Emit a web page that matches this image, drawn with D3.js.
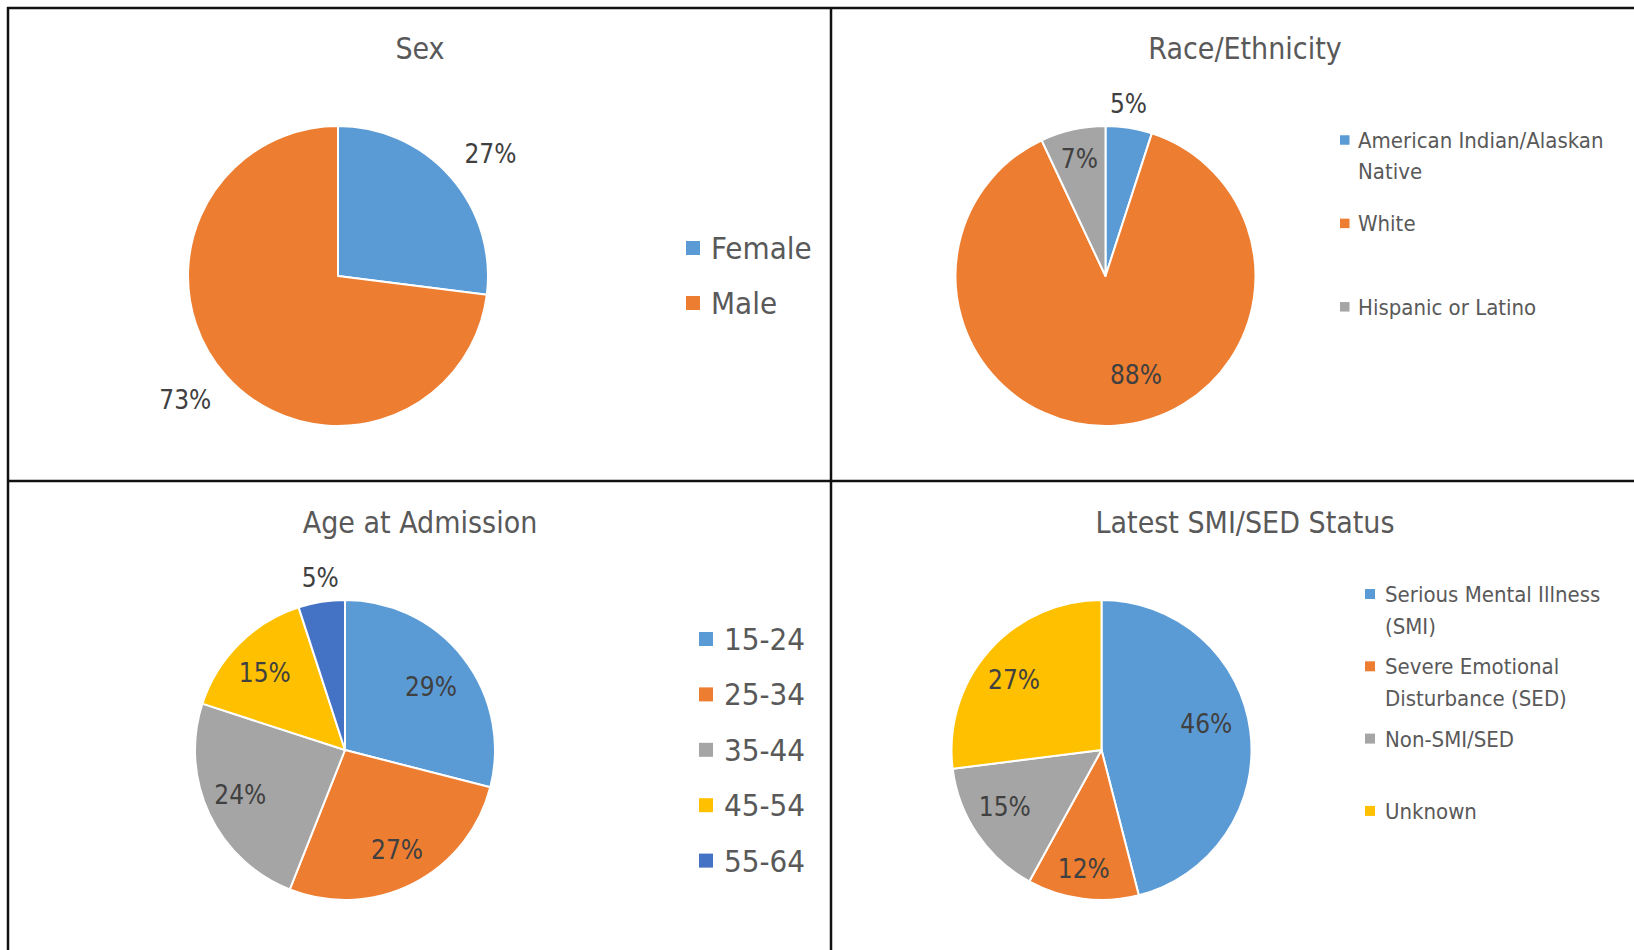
<!DOCTYPE html>
<html lang="en">
<head>
<meta charset="UTF-8">
<title>Client Demographics</title>
<script src="https://d3js.org/d3.v7.min.js"></script>
<style>
  body { margin: 0; background: #fff; }
  svg { display: block; }
  text { font-family: "DejaVu Sans Condensed", "Liberation Sans Narrow", "Arial Narrow", sans-serif; }
  .title { font-size: 30px; fill: #595959; text-anchor: middle; }
  .pct { font-size: 26px; fill: #404040; text-anchor: middle; }
  .leg-big { font-size: 31px; fill: #595959; }
  .leg-small { font-size: 22px; fill: #595959; }
  .frame { stroke: #111; stroke-width: 2.5; }
</style>
</head>
<body>
<svg id="chart"></svg>
<script>
// data (percent of clients)
const sexCategories = ["Female", "Male"];
const sexValues = [27, 73];

const raceCategories = ["American Indian/Alaskan Native", "White", "Hispanic or Latino"];
const raceValues = [5, 88, 7];

const ageCategories = ["15-24", "25-34", "35-44", "45-54", "55-64"];
const ageValues = [29, 27, 24, 15, 5];

const statusCategories = ["Serious Mental Illness (SMI)", "Severe Emotional Disturbance (SED)", "Non-SMI/SED", "Unknown"];
const statusValues = [46, 12, 15, 27];

const sliceColors = ["#5B9BD5", "#ED7D31", "#A5A5A5", "#FFC000", "#4472C4"];

const width = 1634, height = 950;
const radius = 150;

const svg = d3.select("#chart")
    .attr("width", width)
    .attr("height", height);

// frame around the four panels
const frameLines = [
    [7, 8, width, 8],
    [8, 7, 8, height],
    [831, 7, 831, height],
    [7, 481, width, 481]
];
svg.selectAll("line.frame")
    .data(frameLines)
    .enter().append("line")
    .attr("class", "frame")
    .attr("x1", d => d[0]).attr("y1", d => d[1])
    .attr("x2", d => d[2]).attr("y2", d => d[3]);

// layout of each panel: label = [radius factor, angle shift in degrees]
const panels = [
    { title: "Sex", cats: sexCategories, vals: sexValues,
      cx: 338, cy: 276, tx: 420, ty: 48,
      labels: [[1.30, 2.8], [1.31, 2.4]],
      legend: { sx: 686, box: 14, x: 711, y: 248, step: 55, cls: "leg-big", maxW: 400, lh: 34 } },
    { title: "Race/Ethnicity", cats: raceCategories, vals: raceValues,
      cx: 1105.5, cy: 276, tx: 1245, ty: 48,
      labels: [[1.16, -1.4], [0.69, -13.5], [0.80, 0]],
      legend: { sx: 1340, box: 9.5, x: 1358, y: 140, step: 83.4, cls: "leg-small", maxW: 270, lh: 31 } },
    { title: "Age at Admission", cats: ageCategories, vals: ageValues,
      cx: 345, cy: 750, tx: 420, ty: 522,
      labels: [[0.71, 1.6], [0.75, -0.6], [0.76, 1.9], [0.74, -1.3], [1.16, 0.8]],
      legend: { sx: 699, box: 14, x: 724, y: 639, step: 55.4, cls: "leg-big", maxW: 400, lh: 34 } },
    { title: "Latest SMI/SED Status", cats: statusCategories, vals: statusValues,
      cx: 1101.5, cy: 750, tx: 1245, ty: 522,
      labels: [[0.72, -6.7], [0.80, 1.3], [0.75, 3.5], [0.745, -2.9]],
      legend: { sx: 1365, box: 10, x: 1385, y: 594, step: 72.3, cls: "leg-small", maxW: 245, lh: 32 } }
];

const pie = d3.pie().sort(null).value(d => d);
const arc = d3.arc().innerRadius(0).outerRadius(radius);

function wrapLines(label, maxW, cls) {
    const probe = svg.append("text").attr("class", cls);
    const lines = [];
    let line = "";
    label.split(" ").forEach(w => {
        const t = line ? line + " " + w : w;
        probe.text(t);
        if (line && probe.node().getComputedTextLength() > maxW) {
            lines.push(line);
            line = w;
        } else {
            line = t;
        }
    });
    lines.push(line);
    probe.remove();
    return lines;
}

panels.forEach(p => {
    svg.append("text")
        .attr("class", "title")
        .attr("x", p.tx)
        .attr("y", p.ty)
        .attr("dominant-baseline", "central")
        .text(p.title);

    const arcs = pie(p.vals);
    const g = svg.append("g").attr("transform", `translate(${p.cx},${p.cy})`);

    g.selectAll("path")
        .data(arcs)
        .enter().append("path")
        .attr("d", arc)
        .attr("fill", (d, i) => sliceColors[i])
        .attr("stroke", "#fff")
        .attr("stroke-width", 2)
        .attr("stroke-linejoin", "round");

    g.selectAll("text.pct")
        .data(arcs)
        .enter().append("text")
        .attr("class", "pct")
        .attr("dominant-baseline", "central")
        .attr("x", (d, i) => {
            const a = (d.startAngle + d.endAngle) / 2 + p.labels[i][1] * Math.PI / 180;
            return radius * p.labels[i][0] * Math.sin(a);
        })
        .attr("y", (d, i) => {
            const a = (d.startAngle + d.endAngle) / 2 + p.labels[i][1] * Math.PI / 180;
            return -radius * p.labels[i][0] * Math.cos(a);
        })
        .text(d => d.data + "%");

    // legend
    const L = p.legend;
    p.cats.forEach((c, i) => {
        const y = L.y + i * L.step;
        svg.append("rect")
            .attr("x", L.sx)
            .attr("y", y - L.box / 2)
            .attr("width", L.box)
            .attr("height", L.box)
            .attr("fill", sliceColors[i]);
        const lines = wrapLines(c, L.maxW, L.cls);
        const t = svg.append("text")
            .attr("class", L.cls)
            .attr("dominant-baseline", "central");
        lines.forEach((ln, k) => {
            t.append("tspan")
                .attr("x", L.x)
                .attr("y", y + k * L.lh)
                .text(ln);
        });
    });
});
</script>
</body>
</html>
